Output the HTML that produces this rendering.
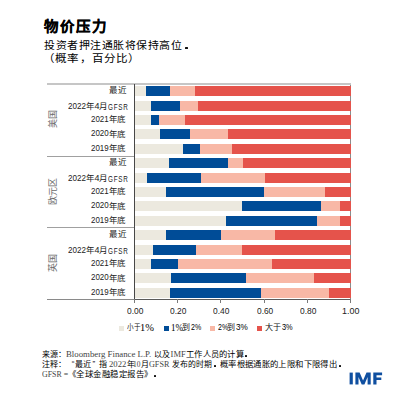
<!DOCTYPE html>
<html lang="zh-CN"><head><meta charset="utf-8">
<style>
html,body{margin:0;padding:0;background:#fff;}
body{width:412px;height:412px;position:relative;overflow:hidden;font-family:"Liberation Sans",sans-serif;color:#231f20;}
.s{position:absolute;height:10px;}
.grp{position:absolute;left:52.9px;font-size:9px;line-height:10px;width:40px;text-align:center;transform:translate(-50%,-50%) rotate(-90deg);color:#6a6a6a;white-space:nowrap;}
.hl{position:absolute;left:47px;height:1px;background:#a0a0a0;}
.ax{position:absolute;left:134px;top:84px;width:1px;height:219px;background:#474747;}
.rx{position:absolute;left:350px;top:84px;width:1px;height:219px;background:#8c8c8c;}
.tick{position:absolute;top:299px;width:1px;height:4px;background:#7a7a7a;}
.dot{position:absolute;width:1.9px;height:1.8px;background:#111;border-radius:0.5px;}
.sq{position:absolute;top:325.5px;width:4.6px;height:5px;}
</style></head><body>
<div class="rx"></div>
<div class="s" style="left:135px;top:86.20px;width:11.00px;background:#ECE9DF"></div><div class="s" style="left:146px;top:86.20px;width:24.00px;background:#004C97"></div><div class="s" style="left:170px;top:86.20px;width:24.50px;background:#F8B8A6"></div><div class="s" style="left:194.5px;top:86.20px;width:156.50px;background:#E5534B"></div><div class="s" style="left:135px;top:100.60px;width:15.50px;background:#ECE9DF"></div><div class="s" style="left:150.5px;top:100.60px;width:29.50px;background:#004C97"></div><div class="s" style="left:180px;top:100.60px;width:18.00px;background:#F8B8A6"></div><div class="s" style="left:198px;top:100.60px;width:153.00px;background:#E5534B"></div><div class="s" style="left:135px;top:115.00px;width:16.25px;background:#ECE9DF"></div><div class="s" style="left:151.25px;top:115.00px;width:7.50px;background:#004C97"></div><div class="s" style="left:158.75px;top:115.00px;width:26.25px;background:#F8B8A6"></div><div class="s" style="left:185px;top:115.00px;width:166.00px;background:#E5534B"></div><div class="s" style="left:135px;top:129.40px;width:24.50px;background:#ECE9DF"></div><div class="s" style="left:159.5px;top:129.40px;width:30.50px;background:#004C97"></div><div class="s" style="left:190px;top:129.40px;width:38.00px;background:#F8B8A6"></div><div class="s" style="left:228px;top:129.40px;width:123.00px;background:#E5534B"></div><div class="s" style="left:135px;top:143.80px;width:47.50px;background:#ECE9DF"></div><div class="s" style="left:182.5px;top:143.80px;width:17.00px;background:#004C97"></div><div class="s" style="left:199.5px;top:143.80px;width:32.50px;background:#F8B8A6"></div><div class="s" style="left:232px;top:143.80px;width:119.00px;background:#E5534B"></div><div class="s" style="left:135px;top:158.20px;width:33.75px;background:#ECE9DF"></div><div class="s" style="left:168.75px;top:158.20px;width:59.25px;background:#004C97"></div><div class="s" style="left:228px;top:158.20px;width:14.75px;background:#F8B8A6"></div><div class="s" style="left:242.75px;top:158.20px;width:108.25px;background:#E5534B"></div><div class="s" style="left:135px;top:172.60px;width:12.25px;background:#ECE9DF"></div><div class="s" style="left:147.25px;top:172.60px;width:53.25px;background:#004C97"></div><div class="s" style="left:200.5px;top:172.60px;width:64.25px;background:#F8B8A6"></div><div class="s" style="left:264.75px;top:172.60px;width:86.25px;background:#E5534B"></div><div class="s" style="left:135px;top:187.00px;width:30.50px;background:#ECE9DF"></div><div class="s" style="left:165.5px;top:187.00px;width:98.00px;background:#004C97"></div><div class="s" style="left:263.5px;top:187.00px;width:61.40px;background:#F8B8A6"></div><div class="s" style="left:324.9px;top:187.00px;width:26.10px;background:#E5534B"></div><div class="s" style="left:135px;top:201.40px;width:106.50px;background:#ECE9DF"></div><div class="s" style="left:241.5px;top:201.40px;width:79.70px;background:#004C97"></div><div class="s" style="left:321.2px;top:201.40px;width:18.80px;background:#F8B8A6"></div><div class="s" style="left:340px;top:201.40px;width:11.00px;background:#E5534B"></div><div class="s" style="left:135px;top:215.80px;width:90.50px;background:#ECE9DF"></div><div class="s" style="left:225.5px;top:215.80px;width:91.60px;background:#004C97"></div><div class="s" style="left:317.1px;top:215.80px;width:22.90px;background:#F8B8A6"></div><div class="s" style="left:340px;top:215.80px;width:11.00px;background:#E5534B"></div><div class="s" style="left:135px;top:230.20px;width:31.00px;background:#ECE9DF"></div><div class="s" style="left:166px;top:230.20px;width:55.25px;background:#004C97"></div><div class="s" style="left:221.25px;top:230.20px;width:53.50px;background:#F8B8A6"></div><div class="s" style="left:274.75px;top:230.20px;width:76.25px;background:#E5534B"></div><div class="s" style="left:135px;top:244.60px;width:18.00px;background:#ECE9DF"></div><div class="s" style="left:153px;top:244.60px;width:43.00px;background:#004C97"></div><div class="s" style="left:196px;top:244.60px;width:46.25px;background:#F8B8A6"></div><div class="s" style="left:242.25px;top:244.60px;width:108.75px;background:#E5534B"></div><div class="s" style="left:135px;top:259.00px;width:15.50px;background:#ECE9DF"></div><div class="s" style="left:150.5px;top:259.00px;width:27.50px;background:#004C97"></div><div class="s" style="left:178px;top:259.00px;width:94.25px;background:#F8B8A6"></div><div class="s" style="left:272.25px;top:259.00px;width:78.75px;background:#E5534B"></div><div class="s" style="left:135px;top:273.40px;width:36.00px;background:#ECE9DF"></div><div class="s" style="left:171px;top:273.40px;width:74.50px;background:#004C97"></div><div class="s" style="left:245.5px;top:273.40px;width:68.00px;background:#F8B8A6"></div><div class="s" style="left:313.5px;top:273.40px;width:37.50px;background:#E5534B"></div><div class="s" style="left:135px;top:287.80px;width:34.50px;background:#ECE9DF"></div><div class="s" style="left:169.5px;top:287.80px;width:91.50px;background:#004C97"></div><div class="s" style="left:261px;top:287.80px;width:68.00px;background:#F8B8A6"></div><div class="s" style="left:329px;top:287.80px;width:22.00px;background:#E5534B"></div><div class="grp" style="top:119.20px">美国</div><div class="grp" style="top:191.20px">欧元区</div><div class="grp" style="top:263.20px">英国</div><div class="hl" style="top:83px;height:2px;width:304px;background:#c6c6c6"></div><div class="hl" style="top:156px;width:87px"></div><div class="hl" style="top:227px;width:87px"></div><div class="hl" style="top:299px;width:87px;background:#8a8a8a"></div><div class="hl" style="left:134px;top:299px;width:217px;background:#5a5a5a"></div>
<div class="ax"></div>
<div class="tick" style="left:134.00px"></div><div class="tick" style="left:177.20px"></div><div class="tick" style="left:220.40px"></div><div class="tick" style="left:263.60px"></div><div class="tick" style="left:306.80px"></div><div class="tick" style="left:350.00px"></div>
<div class="sq" style="left:119.4px;background:#ECE9DF"></div>
<div class="sq" style="left:164.1px;background:#004C97"></div>
<div class="sq" style="left:210.4px;background:#F8B8A6"></div>
<div class="sq" style="left:257.3px;background:#E5534B"></div>
<div style="position:absolute;left:43.80px;top:20.40px;white-space:nowrap;line-height:12px;font-family:&quot;Liberation Sans&quot;,sans-serif;font-size:14px;letter-spacing:1.5px;font-weight:bold;color:#000;-webkit-text-stroke:0.2px #000;transform:scaleX(1.0333);transform-origin:left top;">物价压力</div>
<div style="position:absolute;left:44.08px;top:38.93px;white-space:nowrap;line-height:12px;font-family:&quot;Liberation Sans&quot;,sans-serif;font-size:10.6px;letter-spacing:0.2px;color:#000;transform:scaleX(1.0298);transform-origin:left top;">投资者押注通胀将保持高位</div>
<div style="position:absolute;left:43.10px;top:51.90px;white-space:nowrap;line-height:12px;font-family:&quot;Liberation Sans&quot;,sans-serif;font-size:10.6px;letter-spacing:0.2px;color:#000;transform:scaleX(1.0880);transform-origin:left top;">（概率，百分比）</div>
<div style="position:absolute;left:109.40px;top:83.95px;white-space:nowrap;line-height:12px;font-family:&quot;Liberation Sans&quot;,sans-serif;font-size:8.5px;color:#222;transform:scaleX(1.0000);transform-origin:left top;">最近</div>
<div style="position:absolute;left:68.20px;top:100.10px;white-space:nowrap;line-height:12px;font-family:&quot;Liberation Sans&quot;,sans-serif;font-size:9px;color:#222;transform:scaleX(0.8950);transform-origin:left top;">2022</div>
<div style="position:absolute;left:85.60px;top:100.30px;white-space:nowrap;line-height:12px;font-family:&quot;Liberation Sans&quot;,sans-serif;font-size:8.5px;color:#222;transform:scaleX(1.0000);transform-origin:left top;">年</div>
<div style="position:absolute;left:94.50px;top:99.80px;white-space:nowrap;line-height:12px;font-family:&quot;Liberation Sans&quot;,sans-serif;font-size:9px;color:#222;transform:scaleX(1.0000);transform-origin:left top;">4</div>
<div style="position:absolute;left:99.40px;top:99.80px;white-space:nowrap;line-height:12px;font-family:&quot;Liberation Sans&quot;,sans-serif;font-size:8.5px;color:#222;transform:scaleX(1.0000);transform-origin:left top;">月</div>
<div style="position:absolute;left:107.80px;top:100.90px;white-space:nowrap;line-height:12px;font-family:&quot;Liberation Sans&quot;,sans-serif;font-size:9px;letter-spacing:1px;color:#222;transform:scaleX(0.7036);transform-origin:left top;">GFSR</div>
<div style="position:absolute;left:91.00px;top:112.50px;white-space:nowrap;line-height:12px;font-family:&quot;Liberation Sans&quot;,sans-serif;font-size:9px;color:#222;transform:scaleX(0.8850);transform-origin:left top;">2021</div>
<div style="position:absolute;left:109.30px;top:113.00px;white-space:nowrap;line-height:12px;font-family:&quot;Liberation Sans&quot;,sans-serif;font-size:8.5px;color:#222;transform:scaleX(1.0000);transform-origin:left top;">年</div>
<div style="position:absolute;left:117.20px;top:113.00px;white-space:nowrap;line-height:12px;font-family:&quot;Liberation Sans&quot;,sans-serif;font-size:8.5px;color:#222;transform:scaleX(1.0000);transform-origin:left top;">底</div>
<div style="position:absolute;left:91.00px;top:127.30px;white-space:nowrap;line-height:12px;font-family:&quot;Liberation Sans&quot;,sans-serif;font-size:9px;color:#222;transform:scaleX(0.8850);transform-origin:left top;">2020</div>
<div style="position:absolute;left:109.20px;top:127.50px;white-space:nowrap;line-height:12px;font-family:&quot;Liberation Sans&quot;,sans-serif;font-size:8.5px;color:#222;transform:scaleX(1.0000);transform-origin:left top;">年</div>
<div style="position:absolute;left:117.44px;top:127.62px;white-space:nowrap;line-height:12px;font-family:&quot;Liberation Sans&quot;,sans-serif;font-size:8.5px;color:#222;transform:scaleX(1.0000);transform-origin:left top;">底</div>
<div style="position:absolute;left:91.00px;top:141.82px;white-space:nowrap;line-height:12px;font-family:&quot;Liberation Sans&quot;,sans-serif;font-size:9px;color:#222;transform:scaleX(0.8828);transform-origin:left top;">2019</div>
<div style="position:absolute;left:109.20px;top:142.30px;white-space:nowrap;line-height:12px;font-family:&quot;Liberation Sans&quot;,sans-serif;font-size:8.5px;color:#222;transform:scaleX(1.0000);transform-origin:left top;">年</div>
<div style="position:absolute;left:117.20px;top:142.40px;white-space:nowrap;line-height:12px;font-family:&quot;Liberation Sans&quot;,sans-serif;font-size:8.5px;color:#222;transform:scaleX(1.0000);transform-origin:left top;">底</div>
<div style="position:absolute;left:109.40px;top:155.95px;white-space:nowrap;line-height:12px;font-family:&quot;Liberation Sans&quot;,sans-serif;font-size:8.5px;color:#222;transform:scaleX(1.0000);transform-origin:left top;">最近</div>
<div style="position:absolute;left:68.20px;top:172.10px;white-space:nowrap;line-height:12px;font-family:&quot;Liberation Sans&quot;,sans-serif;font-size:9px;color:#222;transform:scaleX(0.8950);transform-origin:left top;">2022</div>
<div style="position:absolute;left:85.60px;top:172.30px;white-space:nowrap;line-height:12px;font-family:&quot;Liberation Sans&quot;,sans-serif;font-size:8.5px;color:#222;transform:scaleX(1.0000);transform-origin:left top;">年</div>
<div style="position:absolute;left:94.50px;top:171.80px;white-space:nowrap;line-height:12px;font-family:&quot;Liberation Sans&quot;,sans-serif;font-size:9px;color:#222;transform:scaleX(1.0000);transform-origin:left top;">4</div>
<div style="position:absolute;left:99.40px;top:171.80px;white-space:nowrap;line-height:12px;font-family:&quot;Liberation Sans&quot;,sans-serif;font-size:8.5px;color:#222;transform:scaleX(1.0000);transform-origin:left top;">月</div>
<div style="position:absolute;left:107.80px;top:172.90px;white-space:nowrap;line-height:12px;font-family:&quot;Liberation Sans&quot;,sans-serif;font-size:9px;letter-spacing:1px;color:#222;transform:scaleX(0.7036);transform-origin:left top;">GFSR</div>
<div style="position:absolute;left:91.00px;top:184.50px;white-space:nowrap;line-height:12px;font-family:&quot;Liberation Sans&quot;,sans-serif;font-size:9px;color:#222;transform:scaleX(0.8850);transform-origin:left top;">2021</div>
<div style="position:absolute;left:109.30px;top:185.00px;white-space:nowrap;line-height:12px;font-family:&quot;Liberation Sans&quot;,sans-serif;font-size:8.5px;color:#222;transform:scaleX(1.0000);transform-origin:left top;">年</div>
<div style="position:absolute;left:117.20px;top:185.00px;white-space:nowrap;line-height:12px;font-family:&quot;Liberation Sans&quot;,sans-serif;font-size:8.5px;color:#222;transform:scaleX(1.0000);transform-origin:left top;">底</div>
<div style="position:absolute;left:91.00px;top:199.30px;white-space:nowrap;line-height:12px;font-family:&quot;Liberation Sans&quot;,sans-serif;font-size:9px;color:#222;transform:scaleX(0.8850);transform-origin:left top;">2020</div>
<div style="position:absolute;left:109.20px;top:199.50px;white-space:nowrap;line-height:12px;font-family:&quot;Liberation Sans&quot;,sans-serif;font-size:8.5px;color:#222;transform:scaleX(1.0000);transform-origin:left top;">年</div>
<div style="position:absolute;left:117.44px;top:199.62px;white-space:nowrap;line-height:12px;font-family:&quot;Liberation Sans&quot;,sans-serif;font-size:8.5px;color:#222;transform:scaleX(1.0000);transform-origin:left top;">底</div>
<div style="position:absolute;left:91.00px;top:213.82px;white-space:nowrap;line-height:12px;font-family:&quot;Liberation Sans&quot;,sans-serif;font-size:9px;color:#222;transform:scaleX(0.8828);transform-origin:left top;">2019</div>
<div style="position:absolute;left:109.20px;top:214.30px;white-space:nowrap;line-height:12px;font-family:&quot;Liberation Sans&quot;,sans-serif;font-size:8.5px;color:#222;transform:scaleX(1.0000);transform-origin:left top;">年</div>
<div style="position:absolute;left:117.20px;top:214.40px;white-space:nowrap;line-height:12px;font-family:&quot;Liberation Sans&quot;,sans-serif;font-size:8.5px;color:#222;transform:scaleX(1.0000);transform-origin:left top;">底</div>
<div style="position:absolute;left:109.40px;top:227.95px;white-space:nowrap;line-height:12px;font-family:&quot;Liberation Sans&quot;,sans-serif;font-size:8.5px;color:#222;transform:scaleX(1.0000);transform-origin:left top;">最近</div>
<div style="position:absolute;left:68.20px;top:244.10px;white-space:nowrap;line-height:12px;font-family:&quot;Liberation Sans&quot;,sans-serif;font-size:9px;color:#222;transform:scaleX(0.8950);transform-origin:left top;">2022</div>
<div style="position:absolute;left:85.60px;top:244.30px;white-space:nowrap;line-height:12px;font-family:&quot;Liberation Sans&quot;,sans-serif;font-size:8.5px;color:#222;transform:scaleX(1.0000);transform-origin:left top;">年</div>
<div style="position:absolute;left:94.50px;top:243.80px;white-space:nowrap;line-height:12px;font-family:&quot;Liberation Sans&quot;,sans-serif;font-size:9px;color:#222;transform:scaleX(1.0000);transform-origin:left top;">4</div>
<div style="position:absolute;left:99.40px;top:243.80px;white-space:nowrap;line-height:12px;font-family:&quot;Liberation Sans&quot;,sans-serif;font-size:8.5px;color:#222;transform:scaleX(1.0000);transform-origin:left top;">月</div>
<div style="position:absolute;left:107.80px;top:244.90px;white-space:nowrap;line-height:12px;font-family:&quot;Liberation Sans&quot;,sans-serif;font-size:9px;letter-spacing:1px;color:#222;transform:scaleX(0.7036);transform-origin:left top;">GFSR</div>
<div style="position:absolute;left:91.00px;top:256.50px;white-space:nowrap;line-height:12px;font-family:&quot;Liberation Sans&quot;,sans-serif;font-size:9px;color:#222;transform:scaleX(0.8850);transform-origin:left top;">2021</div>
<div style="position:absolute;left:109.30px;top:257.00px;white-space:nowrap;line-height:12px;font-family:&quot;Liberation Sans&quot;,sans-serif;font-size:8.5px;color:#222;transform:scaleX(1.0000);transform-origin:left top;">年</div>
<div style="position:absolute;left:117.20px;top:257.00px;white-space:nowrap;line-height:12px;font-family:&quot;Liberation Sans&quot;,sans-serif;font-size:8.5px;color:#222;transform:scaleX(1.0000);transform-origin:left top;">底</div>
<div style="position:absolute;left:91.00px;top:271.30px;white-space:nowrap;line-height:12px;font-family:&quot;Liberation Sans&quot;,sans-serif;font-size:9px;color:#222;transform:scaleX(0.8850);transform-origin:left top;">2020</div>
<div style="position:absolute;left:109.20px;top:271.50px;white-space:nowrap;line-height:12px;font-family:&quot;Liberation Sans&quot;,sans-serif;font-size:8.5px;color:#222;transform:scaleX(1.0000);transform-origin:left top;">年</div>
<div style="position:absolute;left:117.44px;top:271.62px;white-space:nowrap;line-height:12px;font-family:&quot;Liberation Sans&quot;,sans-serif;font-size:8.5px;color:#222;transform:scaleX(1.0000);transform-origin:left top;">底</div>
<div style="position:absolute;left:91.00px;top:285.82px;white-space:nowrap;line-height:12px;font-family:&quot;Liberation Sans&quot;,sans-serif;font-size:9px;color:#222;transform:scaleX(0.8828);transform-origin:left top;">2019</div>
<div style="position:absolute;left:109.20px;top:286.30px;white-space:nowrap;line-height:12px;font-family:&quot;Liberation Sans&quot;,sans-serif;font-size:8.5px;color:#222;transform:scaleX(1.0000);transform-origin:left top;">年</div>
<div style="position:absolute;left:117.20px;top:286.40px;white-space:nowrap;line-height:12px;font-family:&quot;Liberation Sans&quot;,sans-serif;font-size:8.5px;color:#222;transform:scaleX(1.0000);transform-origin:left top;">底</div>
<div style="position:absolute;left:127.00px;top:305.40px;white-space:nowrap;line-height:12px;font-family:&quot;Liberation Sans&quot;,sans-serif;font-size:9px;color:#222;transform:scaleX(0.9353);transform-origin:left top;">0.00</div>
<div style="position:absolute;left:170.12px;top:304.96px;white-space:nowrap;line-height:12px;font-family:&quot;Liberation Sans&quot;,sans-serif;font-size:9px;color:#222;transform:scaleX(0.9328);transform-origin:left top;">0.20</div>
<div style="position:absolute;left:212.80px;top:305.40px;white-space:nowrap;line-height:12px;font-family:&quot;Liberation Sans&quot;,sans-serif;font-size:9px;color:#222;transform:scaleX(0.9353);transform-origin:left top;">0.40</div>
<div style="position:absolute;left:256.56px;top:304.96px;white-space:nowrap;line-height:12px;font-family:&quot;Liberation Sans&quot;,sans-serif;font-size:9px;color:#222;transform:scaleX(0.9260);transform-origin:left top;">0.60</div>
<div style="position:absolute;left:299.60px;top:305.40px;white-space:nowrap;line-height:12px;font-family:&quot;Liberation Sans&quot;,sans-serif;font-size:9px;color:#222;transform:scaleX(0.9353);transform-origin:left top;">0.80</div>
<div style="position:absolute;left:342.00px;top:305.40px;white-space:nowrap;line-height:12px;font-family:&quot;Liberation Sans&quot;,sans-serif;font-size:9px;color:#222;transform:scaleX(0.9937);transform-origin:left top;">1.00</div>
<div style="position:absolute;left:127.40px;top:322.45px;white-space:nowrap;line-height:12px;font-family:&quot;Liberation Sans&quot;,sans-serif;font-size:8px;color:#111;transform:scaleX(0.8188);transform-origin:left top;">小于</div>
<div style="position:absolute;left:139.90px;top:322.00px;white-space:nowrap;line-height:12px;font-family:&quot;Liberation Sans&quot;,sans-serif;font-size:9.5px;color:#000;font-family:'Liberation Serif',serif;transform:scaleX(1.1001);transform-origin:left top;">1%</div>
<div style="position:absolute;left:171.20px;top:321.75px;white-space:nowrap;line-height:12px;font-family:&quot;Liberation Sans&quot;,sans-serif;font-size:9.5px;color:#000;font-family:'Liberation Serif',serif;transform:scaleX(0.9417);transform-origin:left top;">1%</div>
<div style="position:absolute;left:181.90px;top:322.10px;white-space:nowrap;line-height:12px;font-family:&quot;Liberation Sans&quot;,sans-serif;font-size:8px;color:#111;transform:scaleX(1.0000);transform-origin:left top;">到</div>
<div style="position:absolute;left:190.60px;top:321.25px;white-space:nowrap;line-height:12px;font-family:&quot;Liberation Sans&quot;,sans-serif;font-size:9px;color:#000;transform:scaleX(0.7846);transform-origin:left top;">2%</div>
<div style="position:absolute;left:217.60px;top:321.25px;white-space:nowrap;line-height:12px;font-family:&quot;Liberation Sans&quot;,sans-serif;font-size:9px;color:#000;transform:scaleX(0.7769);transform-origin:left top;">2%</div>
<div style="position:absolute;left:226.60px;top:321.90px;white-space:nowrap;line-height:12px;font-family:&quot;Liberation Sans&quot;,sans-serif;font-size:8px;color:#111;transform:scaleX(1.0000);transform-origin:left top;">到</div>
<div style="position:absolute;left:235.80px;top:321.25px;white-space:nowrap;line-height:12px;font-family:&quot;Liberation Sans&quot;,sans-serif;font-size:9px;color:#000;transform:scaleX(0.9077);transform-origin:left top;">3%</div>
<div style="position:absolute;left:265.10px;top:321.70px;white-space:nowrap;line-height:12px;font-family:&quot;Liberation Sans&quot;,sans-serif;font-size:8px;color:#111;transform:scaleX(1.0000);transform-origin:left top;">大于</div>
<div style="position:absolute;left:281.60px;top:321.25px;white-space:nowrap;line-height:12px;font-family:&quot;Liberation Sans&quot;,sans-serif;font-size:9px;color:#000;transform:scaleX(0.8231);transform-origin:left top;">3%</div>
<div style="position:absolute;left:41.60px;top:348.80px;white-space:nowrap;line-height:12px;font-family:&quot;Liberation Sans&quot;,sans-serif;font-size:8px;letter-spacing:0px;color:#000;transform:scaleX(1.0000);transform-origin:left top;">来源：</div>
<div style="position:absolute;left:66.00px;top:347.55px;white-space:nowrap;line-height:12px;font-family:&quot;Liberation Sans&quot;,sans-serif;font-size:8.5px;color:#444;font-family:'Liberation Serif',serif;transform:scaleX(1.0333);transform-origin:left top;">Bloomberg Finance L.P.</div>
<div style="position:absolute;left:154.00px;top:348.80px;white-space:nowrap;line-height:12px;font-family:&quot;Liberation Sans&quot;,sans-serif;font-size:8px;letter-spacing:0px;color:#000;transform:scaleX(1.0000);transform-origin:left top;">以及</div>
<div style="position:absolute;left:170.60px;top:348.10px;white-space:nowrap;line-height:12px;font-family:&quot;Liberation Sans&quot;,sans-serif;font-size:8.5px;color:#444;font-family:'Liberation Serif',serif;transform:scaleX(1.0000);transform-origin:left top;">IMF</div>
<div style="position:absolute;left:185.80px;top:349.00px;white-space:nowrap;line-height:12px;font-family:&quot;Liberation Sans&quot;,sans-serif;font-size:8px;letter-spacing:0px;color:#000;transform:scaleX(1.0358);transform-origin:left top;">工作人员的计算</div>
<div style="position:absolute;left:41.88px;top:358.66px;white-space:nowrap;line-height:12px;font-family:&quot;Liberation Sans&quot;,sans-serif;font-size:8px;letter-spacing:0px;color:#000;transform:scaleX(1.0000);transform-origin:left top;">注释：</div>
<div style="position:absolute;left:71.80px;top:357.70px;white-space:nowrap;line-height:12px;font-family:&quot;Liberation Sans&quot;,sans-serif;font-size:8px;letter-spacing:0px;color:#000;transform:scaleX(1.0000);transform-origin:left top;">“</div>
<div style="position:absolute;left:74.90px;top:358.60px;white-space:nowrap;line-height:12px;font-family:&quot;Liberation Sans&quot;,sans-serif;font-size:8px;letter-spacing:0px;color:#000;transform:scaleX(1.0000);transform-origin:left top;">最近</div>
<div style="position:absolute;left:92.60px;top:358.05px;white-space:nowrap;line-height:12px;font-family:&quot;Liberation Sans&quot;,sans-serif;font-size:8px;letter-spacing:0px;color:#000;transform:scaleX(1.0000);transform-origin:left top;">”</div>
<div style="position:absolute;left:99.00px;top:358.60px;white-space:nowrap;line-height:12px;font-family:&quot;Liberation Sans&quot;,sans-serif;font-size:8px;letter-spacing:0px;color:#000;transform:scaleX(1.0000);transform-origin:left top;">指</div>
<div style="position:absolute;left:109.44px;top:358.21px;white-space:nowrap;line-height:12px;font-family:&quot;Liberation Sans&quot;,sans-serif;font-size:8.5px;color:#444;font-family:'Liberation Serif',serif;transform:scaleX(1.0189);transform-origin:left top;">2022</div>
<div style="position:absolute;left:126.88px;top:358.66px;white-space:nowrap;line-height:12px;font-family:&quot;Liberation Sans&quot;,sans-serif;font-size:8px;letter-spacing:0px;color:#000;transform:scaleX(1.0000);transform-origin:left top;">年</div>
<div style="position:absolute;left:133.36px;top:358.21px;white-space:nowrap;line-height:12px;font-family:&quot;Liberation Sans&quot;,sans-serif;font-size:8.5px;color:#444;font-family:'Liberation Serif',serif;transform:scaleX(0.8694);transform-origin:left top;">10</div>
<div style="position:absolute;left:141.00px;top:358.60px;white-space:nowrap;line-height:12px;font-family:&quot;Liberation Sans&quot;,sans-serif;font-size:8px;letter-spacing:0px;color:#000;transform:scaleX(1.0000);transform-origin:left top;">月</div>
<div style="position:absolute;left:148.56px;top:358.21px;white-space:nowrap;line-height:12px;font-family:&quot;Liberation Sans&quot;,sans-serif;font-size:8.5px;color:#444;font-family:'Liberation Serif',serif;transform:scaleX(0.9550);transform-origin:left top;">GFSR</div>
<div style="position:absolute;left:171.70px;top:358.60px;white-space:nowrap;line-height:12px;font-family:&quot;Liberation Sans&quot;,sans-serif;font-size:8px;letter-spacing:0px;color:#000;transform:scaleX(0.9851);transform-origin:left top;">发布的时期</div>
<div style="position:absolute;left:220.20px;top:358.60px;white-space:nowrap;line-height:12px;font-family:&quot;Liberation Sans&quot;,sans-serif;font-size:8px;letter-spacing:0px;color:#000;transform:scaleX(1.0446);transform-origin:left top;">概率根据通胀的上限和下限得出</div>
<div style="position:absolute;left:42.10px;top:368.00px;white-space:nowrap;line-height:12px;font-family:&quot;Liberation Sans&quot;,sans-serif;font-size:8.5px;color:#444;font-family:'Liberation Serif',serif;transform:scaleX(0.9263);transform-origin:left top;">GFSR =</div>
<div style="position:absolute;left:67.90px;top:369.00px;white-space:nowrap;line-height:12px;font-family:&quot;Liberation Sans&quot;,sans-serif;font-size:8px;letter-spacing:0px;color:#000;transform:scaleX(1.0556);transform-origin:left top;">《全球金融稳定报告》</div>
<div class="dot" style="left:185px;top:46.5px;width:3.2px;height:2.3px"></div>
<div class="dot" style="left:244.8px;top:355.2px"></div>
<div class="dot" style="left:213.8px;top:365px"></div>
<div class="dot" style="left:338.9px;top:365px"></div>
<div class="dot" style="left:154.1px;top:375.1px"></div>
<svg style="position:absolute;left:0;top:0" width="412" height="412" viewBox="0 0 412 412">
<g fill="#0f4fa0">
<rect x="349.6" y="372.6" width="3.2" height="11.8"/>
<path d="M355.4 372.6 H359.6 L363.05 380.6 L366.5 372.6 H370.7 V384.4 H367.6 V377 L364.4 384.4 H361.7 L358.5 377 V384.4 H355.4 Z"/>
<path d="M373.3 372.6 H382.1 V375.2 H376.5 V377.4 H381.3 V380 H376.5 V384.4 H373.3 Z"/>
</g></svg>
</body></html>
